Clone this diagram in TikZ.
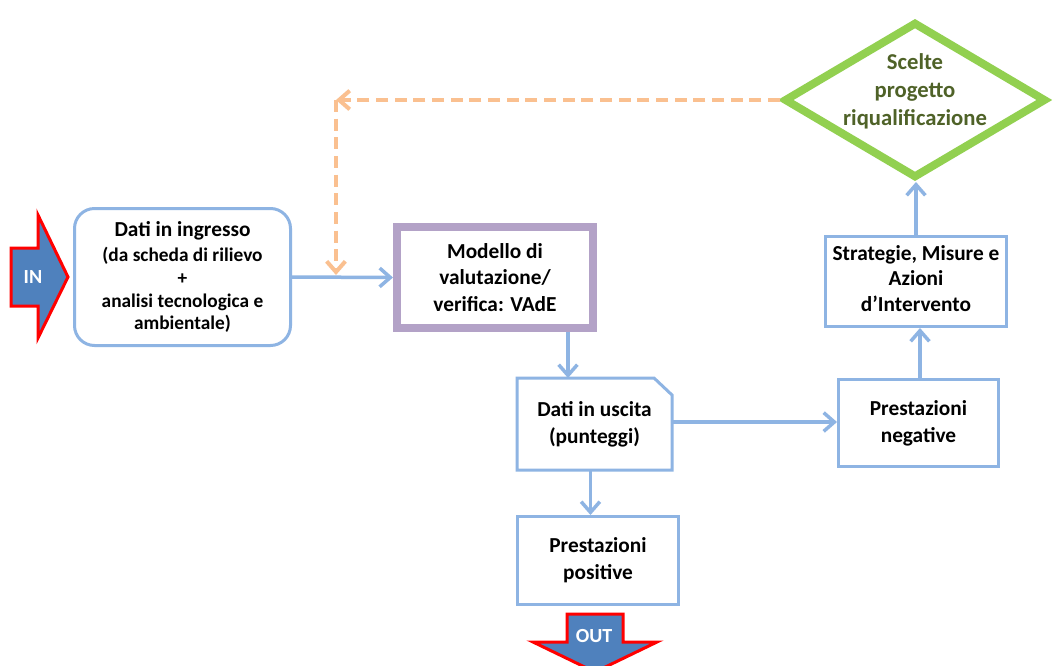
\documentclass[tikz,border=0pt]{standalone}
\usepackage{fontspec}
\setmainfont{Carlito}
\usetikzlibrary{arrows.meta,shapes.geometric}
\definecolor{boxblue}{HTML}{8EB4E3}
\definecolor{modpurple}{HTML}{B3A2C7}
\definecolor{choicegreen}{HTML}{92D050}
\definecolor{choicetext}{HTML}{4F6228}
\definecolor{looporange}{HTML}{FAC090}
\definecolor{iofill}{HTML}{4F81BD}
\definecolor{iored}{HTML}{FF0000}
\def\px{0.75pt}
\begin{document}
\begin{tikzpicture}[x=0.75pt,y=-0.75pt,
  box/.style={draw=boxblue, line width=3*\px, fill=white, inner sep=0pt,
    align=center, font=\bfseries\fontsize{16}{20}\selectfont},
  arr/.style={draw=boxblue, line width=3.5*\px, -{Straight Barb[length=8pt,width=14pt]}},
  loop/.style={draw=looporange, line width=4*\px, dash pattern=on 9pt off 5pt,
    -{Straight Barb[length=8pt,width=14pt]}},
  blockarrow/.style={fill=iofill, draw=iored, line width=3*\px, line join=miter},
  iotext/.style={text=white, font=\bfseries\fontsize{15}{17}\selectfont, inner sep=0pt}]

\useasboundingbox (0,0) rectangle (1054,665);
\begin{scope}
\clip (0,0) rectangle (1054,665);
\fill[white] (0,0) rectangle (1054,665);

% input block arrow
\draw[blockarrow] (11,248) -- (38,248) -- (38,215) -- (68,277) -- (38,338) -- (38,306) -- (11,306) -- cycle;
\node[iotext] (in) at (33,277) {IN};

% main boxes
\node[box, rounded corners=15pt, minimum width=216*\px, minimum height=137*\px,
  font=\bfseries\fontsize{14.5}{17}\selectfont] (ingr) at (182.5,277)
  {{\fontsize{16}{20}\selectfont Dati in ingresso}\\[2pt]
   (da scheda di rilievo\\ +\\ analisi tecnologica e\\ ambientale)};
\node[box, draw=modpurple, line width=8*\px, minimum width=196*\px, minimum height=101*\px] (mod) at (495,277.5)
  {Modello di\\ valutazione/\\ verifica: VAdE};
\node[box, draw=none, minimum width=152*\px, minimum height=89*\px] (uscita) at (594.5,424)
  {Dati in uscita\\ (punteggi)};
\draw[boxblue, line width=3*\px, line join=miter]
  (uscita.south west) -- (uscita.north west) -- ([xshift=-18*\px]uscita.north east)
  -- ([yshift=-17*\px]uscita.north east) -- (uscita.south east) -- cycle;
\node[box, minimum width=161*\px, minimum height=88*\px] (pos) at (598,560.5)
  {Prestazioni\\ positive};
\node[box, minimum width=160*\px, minimum height=87*\px] (neg) at (918.5,423)
  {Prestazioni\\ negative};
\node[box, minimum width=181*\px, minimum height=90*\px, font=\bfseries\fontsize{16}{19}\selectfont] (strat) at (916,281.5)
  {Strategie, Misure e\\ Azioni\\ d’Intervento\\[-14.5pt]\mbox{}};
\node[diamond, draw=choicegreen, line width=8*\px, fill=white, inner sep=0pt,
  minimum width=262*\px, minimum height=156*\px] (scelte) at (915,100) {};
\node[align=center, text=choicetext, inner sep=0pt, font=\bfseries\fontsize{17}{21}\selectfont] (sceltetxt) at (915,91)
  {Scelte\\ progetto\\ riqualificazione};

% output block arrow
\draw[blockarrow] (567,614) -- (623,614) -- (623,642) -- (657,642) -- (595,672) -- (533,642) -- (567,642) -- cycle;
\node[iotext] (out) at (594,636) {OUT};

% connectors
\draw[arr] (ingr.east) -- (mod.west);
\draw[arr] ([xshift=73*\px]mod.south) -- ([xshift=73*\px]mod.south |- uscita.north);
\draw[arr] ([yshift=2*\px]uscita.east) -- ([yshift=2*\px]uscita.east -| neg.west);
\draw[arr] ([xshift=-4*\px]uscita.south) -- ([xshift=-4*\px]uscita.south |- pos.north);
\draw[arr] ([xshift=1.5*\px]neg.north) -- ([xshift=1.5*\px]neg.north |- strat.south);
\draw[arr] (strat.north) -- (strat.north |- scelte.south);

% feedback loop
\coordinate (loopcorner) at (336,100);
\coordinate (loopend) at (336,275);
\draw[loop] (scelte.west) -- (loopcorner);
\draw[loop] (loopcorner) -- (loopend);
\end{scope}
\end{tikzpicture}
\end{document}
